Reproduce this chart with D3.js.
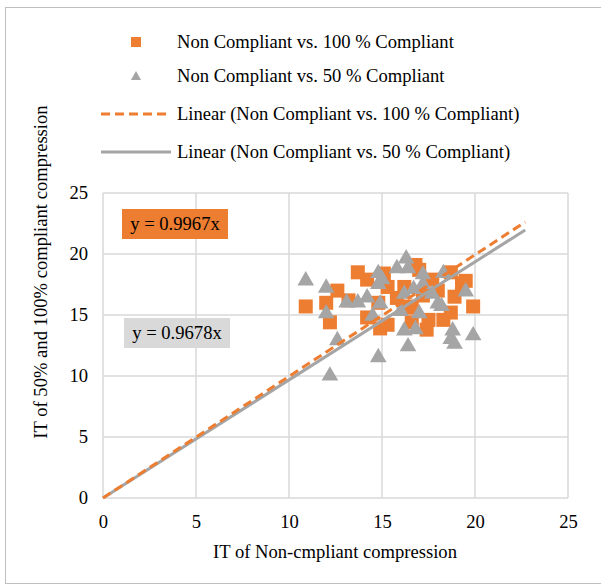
<!DOCTYPE html>
<html>
<head>
<meta charset="utf-8">
<script src="https://cdn.jsdelivr.net/npm/d3@7"></script>
<style>
  html, body { margin: 0; padding: 0; background: #ffffff; }
  svg { display: block; }
  text { font-family: "Liberation Serif", "Times New Roman", serif; fill: #000; }
</style>
</head>
<body>
<svg id="chart" width="601" height="588"></svg>
<script>
// ---- data ----
const seriesNames = [
  "Non Compliant vs. 100 % Compliant",
  "Non Compliant vs. 50 % Compliant",
  "Linear (Non Compliant vs. 100 % Compliant)",
  "Linear (Non Compliant vs. 50 % Compliant)"
];
const full100X = [10.9, 12.0, 12.2, 12.6, 13.2, 13.7, 14.2, 15.1, 16.8, 14.2, 14.9, 15.3, 15.8, 16.2, 16.6, 16.6, 17.4, 17.5, 18.3, 18.7, 18.9, 18.7, 19.3, 19.9, 18.0, 17.2, 16.3, 15.3, 17.7, 14.8, 17.0, 19.5];
const full100Y = [15.7, 16.0, 14.4, 17.0, 16.2, 18.5, 17.9, 18.4, 19.1, 14.8, 13.9, 14.2, 16.4, 17.3, 15.6, 14.4, 13.8, 14.6, 14.6, 15.2, 16.5, 18.5, 17.6, 15.7, 17.0, 16.6, 15.7, 17.3, 17.9, 16.0, 18.7, 17.8];
const half50X = [10.9, 12.0, 12.2, 12.6, 13.1, 13.7, 14.2, 14.8, 14.8, 15.8, 16.3, 16.4, 17.2, 18.3, 14.9, 14.5, 16.2, 16.7, 17.2, 17.7, 18.0, 18.2, 16.0, 17.0, 16.2, 16.8, 16.4, 14.8, 18.8, 18.7, 18.9, 19.9, 19.5, 12.0, 15.0];
const half50Y = [17.9, 17.3, 10.1, 13.0, 16.1, 16.1, 16.5, 18.5, 17.6, 18.9, 19.7, 18.9, 18.4, 18.5, 16.0, 15.0, 16.8, 17.2, 17.6, 16.8, 16.0, 15.8, 15.4, 15.2, 13.8, 13.9, 12.5, 11.6, 13.8, 13.1, 12.7, 13.4, 17.0, 15.2, 18.0];
const slope100 = 0.9967;
const slope50 = 0.9678;
const trendExtent = [0, 22.7];
const tickValues = [0, 5, 10, 15, 20, 25];
const eqLabels = ["y = 0.9967x", "y = 0.9678x"];
const xTitle = "IT of Non-cmpliant compression";
const yTitle = "IT of 50% and 100% compliant compression";

// ---- styles ----
const ORANGE = "#ED7D31", GRAY = "#A5A5A5", GRID = "#D9D9D9";
const FS = 18.6;

const svg = d3.select("#chart");
const W = 601, H = 588;

// outer border
svg.append("rect").attr("x", 5.5).attr("y", 7.5).attr("width", W).attr("height", 576)
  .attr("fill", "none").attr("stroke", "#BFBFBF").attr("stroke-width", 1);

const x = d3.scaleLinear().domain([0, 25]).range([103, 568]);
const y = d3.scaleLinear().domain([0, 25]).range([498, 193]);

// gridlines
const g = svg.append("g");
g.selectAll("line.h").data(tickValues).enter().append("line")
  .attr("x1", x(0)).attr("x2", x(25))
  .attr("y1", d => y(d)).attr("y2", d => y(d))
  .attr("stroke", GRID).attr("stroke-width", 1.5);
g.selectAll("line.v").data(tickValues).enter().append("line")
  .attr("y1", y(0)).attr("y2", y(25))
  .attr("x1", d => x(d)).attr("x2", d => x(d))
  .attr("stroke", GRID).attr("stroke-width", 1.5);

// axes (labels only)
const xAxis = d3.axisBottom(x).tickValues(tickValues).tickSize(0).tickPadding(17);
const yAxis = d3.axisLeft(y).tickValues(tickValues).tickSize(0).tickPadding(15);
const gx = svg.append("g").attr("transform", `translate(0,${y(0)})`).call(xAxis);
const gy = svg.append("g").attr("transform", `translate(${x(0)},0)`).call(yAxis);
[gx, gy].forEach(a => {
  a.select(".domain").remove();
  a.selectAll("text").style("font-family", '"Liberation Serif", serif')
    .style("font-size", FS + "px").attr("fill", "#000");
});

// axis titles
svg.append("text").attr("x", 335).attr("y", 558).attr("text-anchor", "middle")
  .style("font-size", FS + "px").text(xTitle);
svg.append("text").attr("transform", "translate(47,272) rotate(-90)")
  .attr("text-anchor", "middle").style("font-size", FS + "px").text(yTitle);

// series 1: squares
const sq = 14;
svg.append("g").selectAll("rect").data(full100X.map((v, i) => [v, full100Y[i]])).enter()
  .append("rect")
  .attr("x", d => x(d[0]) - sq / 2).attr("y", d => y(d[1]) - sq / 2)
  .attr("width", sq).attr("height", sq).attr("fill", ORANGE);

// series 2: triangles
const tri = d3.symbol().type(d3.symbolTriangle).size(120);
svg.append("g").selectAll("path").data(half50X.map((v, i) => [v, half50Y[i]])).enter()
  .append("path")
  .attr("d", tri)
  .attr("transform", d => `translate(${x(d[0])},${y(d[1]) + 1})`)
  .attr("fill", GRAY);

// trendlines
const line = d3.line().x(d => x(d[0])).y(d => y(d[1]));
svg.append("path").datum(trendExtent.map(v => [v, v * slope50]))
  .attr("d", line).attr("fill", "none").attr("stroke", GRAY).attr("stroke-width", 3);
svg.append("path").datum(trendExtent.map(v => [v, v * slope100]))
  .attr("d", line).attr("fill", "none").attr("stroke", ORANGE).attr("stroke-width", 3)
  .attr("stroke-dasharray", "9,5");

// equation labels
function eqBox(bx, by, fill, label) {
  svg.append("rect").attr("x", bx).attr("y", by).attr("width", 106).attr("height", 30).attr("fill", fill);
  svg.append("text").attr("x", bx + 53).attr("y", by + 21).attr("text-anchor", "middle")
    .style("font-size", FS + "px").text(label);
}
eqBox(122, 209, ORANGE, eqLabels[0]);
eqBox(124, 318, GRID, eqLabels[1]);

// legend
const legY = [42, 76, 114, 152];
const lg = svg.append("g");
lg.append("rect").attr("x", 131).attr("y", legY[0] - 5).attr("width", 10).attr("height", 10).attr("fill", ORANGE);
lg.append("path").attr("d", d3.symbol().type(d3.symbolTriangle).size(45))
  .attr("transform", `translate(136,${legY[1] + 1})`).attr("fill", GRAY);
lg.append("line").attr("x1", 101).attr("x2", 171).attr("y1", legY[2]).attr("y2", legY[2])
  .attr("stroke", ORANGE).attr("stroke-width", 3).attr("stroke-dasharray", "9,5");
lg.append("line").attr("x1", 101).attr("x2", 171).attr("y1", legY[3]).attr("y2", legY[3])
  .attr("stroke", GRAY).attr("stroke-width", 3);
lg.selectAll("text").data(seriesNames).enter().append("text")
  .attr("x", 177).attr("y", (d, i) => legY[i] + 6)
  .style("font-size", FS + "px").text(d => d);
</script>
</body>
</html>
